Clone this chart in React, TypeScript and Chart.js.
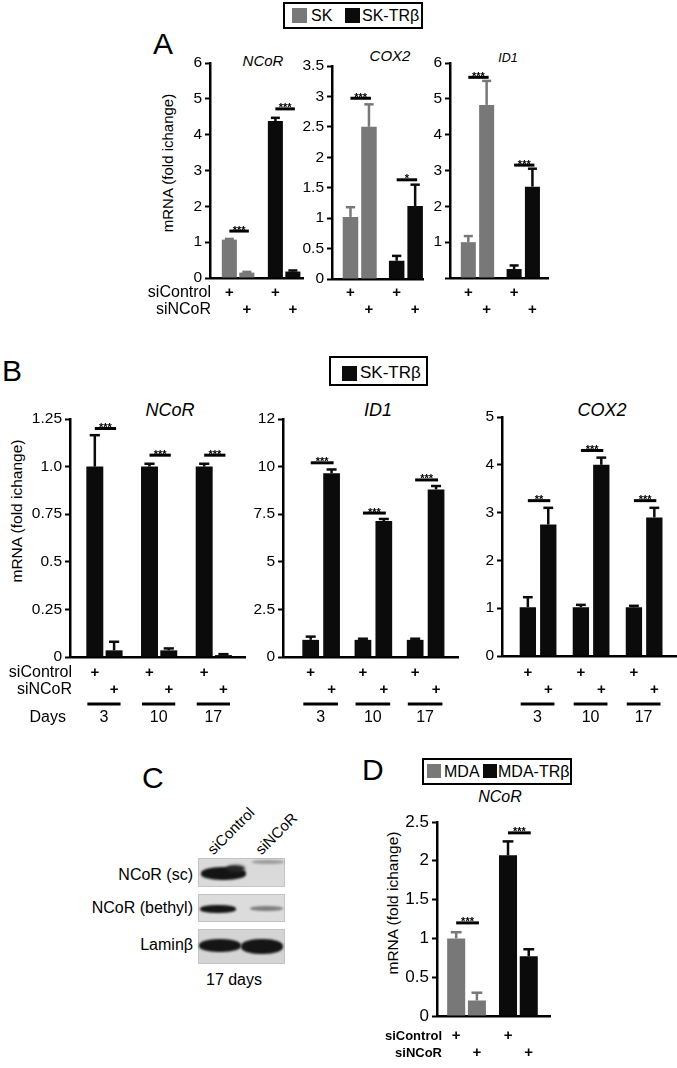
import React, { useEffect, useRef } from 'react';
import { Chart, registerables } from 'chart.js';
Chart.register(...registerables);

const FONT = '"Liberation Sans", Arial, Helvetica, sans-serif';
const GRAY = '#787878';
const BLACK = '#0b0b0b';

// ---------- Panel A (SK vs SK-TRβ) ----------
const A_GROUPS = ['SK', 'SK-TRβ'];
const A_COLORS = [GRAY, BLACK];
const A_NCOR_CTRL = [1.07, 4.38];
const A_NCOR_CTRL_ERR = [0.02, 0.09];
const A_NCOR_SI = [0.15, 0.18];
const A_NCOR_SI_ERR = [0.02, 0.03];
const A_NCOR_SIG_Y = [1.31, 4.72];
const A_NCOR_SIG = ['***', '***'];
const A_NCOR_TICKS = ['0', '1', '2', '3', '4', '5', '6'];

const A_COX2_CTRL = [1.02, 0.3];
const A_COX2_CTRL_ERR = [0.16, 0.08];
const A_COX2_SI = [2.5, 1.2];
const A_COX2_SI_ERR = [0.37, 0.35];
const A_COX2_SIG_Y = [2.97, 1.63];
const A_COX2_SIG = ['***', '*'];
const A_COX2_TICKS = ['0', '0.5', '1', '1.5', '2', '2.5', '3', '3.5'];

const A_ID1_CTRL = [1.0, 0.25];
const A_ID1_CTRL_ERR = [0.17, 0.1];
const A_ID1_SI = [4.83, 2.55];
const A_ID1_SI_ERR = [0.67, 0.5];
const A_ID1_SIG_Y = [5.6, 3.15];
const A_ID1_SIG = ['***', '***'];
const A_ID1_TICKS = ['', '1', '2', '3', '4', '5', '6'];

// ---------- Panel B (SK-TRβ, days) ----------
const B_DAYS = ['3', '10', '17'];
const B_COLORS = [BLACK, BLACK, BLACK];
const B_NCOR_CTRL = [1.0, 1.0, 1.0];
const B_NCOR_CTRL_ERR = [0.165, 0.015, 0.015];
const B_NCOR_SI = [0.035, 0.035, 0.01];
const B_NCOR_SI_ERR = [0.045, 0.01, 0.005];
const B_NCOR_SIG_Y = [1.2, 1.06, 1.06];
const B_NCOR_SIG = ['***', '***', '***'];
const B_NCOR_TICKS = ['0', '0.25', '0.5', '0.75', '1.0', '1.25'];

const B_ID1_CTRL = [0.9, 0.9, 0.9];
const B_ID1_CTRL_ERR = [0.17, 0.06, 0.06];
const B_ID1_SI = [9.65, 7.14, 8.8];
const B_ID1_SI_ERR = [0.2, 0.11, 0.18];
const B_ID1_SIG_Y = [10.2, 7.56, 9.3];
const B_ID1_SIG = ['***', '***', '***'];
const B_ID1_TICKS = ['0', '2.5', '5', '7.5', '10', '12'];

const B_COX2_CTRL = [1.02, 1.02, 1.02];
const B_COX2_CTRL_ERR = [0.21, 0.05, 0.03];
const B_COX2_SI = [2.75, 4.0, 2.9];
const B_COX2_SI_ERR = [0.35, 0.15, 0.2];
const B_COX2_SIG_Y = [3.25, 4.3, 3.25];
const B_COX2_SIG = ['**', '***', '***'];
const B_COX2_TICKS = ['0', '1', '2', '3', '4', '5'];

// ---------- Panel D (MDA vs MDA-TRβ) ----------
const D_GROUPS = ['MDA', 'MDA-TRβ'];
const D_COLORS = [GRAY, BLACK];
const D_CTRL = [1.0, 2.07];
const D_CTRL_ERR = [0.08, 0.18];
const D_SI = [0.2, 0.77];
const D_SI_ERR = [0.1, 0.09];
const D_SIG_Y = [1.2, 2.36];
const D_SIG = ['***', '***'];
const D_TICKS = ['0', '0.5', '1', '1.5', '2', '2.5'];

const ROW_LABELS = ['siControl', 'siNCoR'];

type Spec = {
  groups: string[];
  colors: string[];
  ctrl: number[]; ctrlErr: number[]; si: number[]; siErr: number[];
  sigY: number[]; sig: string[];
  yMax: number; yStep: number; ticks: string[]; tickSize: number;
  box: { left: number; top: number; width: number; height: number };
  area: { left: number; top: number; right: number; bottom: number };
  xPad: [number, number];
  yw: number;
  catPct: number; barPct: number;
  rowOff: number[];
  rowLabels?: { dx: number; font: string };
  days?: { line: number; text: number; label: boolean };
};

function annotPlugin(spec: Spec) {
  return {
    id: 'annot',
    afterDatasetsDraw(chart: any) {
      const ctx = chart.ctx;
      const ys = chart.scales.y;
      const area = chart.chartArea;
      const metas = [chart.getDatasetMeta(0), chart.getDatasetMeta(1)];
      const vals = [spec.ctrl, spec.si];
      const errs = [spec.ctrlErr, spec.siErr];
      ctx.save();
      // error bars
      metas.forEach((m: any, d: number) => {
        m.data.forEach((bar: any, i: number) => {
          const v = vals[d][i];
          const e = errs[d][i];
          const y0 = ys.getPixelForValue(v);
          const y1 = ys.getPixelForValue(v + e);
          ctx.strokeStyle = spec.colors[i];
          ctx.lineWidth = 2.5;
          ctx.beginPath();
          ctx.moveTo(bar.x, y0);
          ctx.lineTo(bar.x, y1);
          ctx.stroke();
          const cw = bar.width * 0.6;
          ctx.beginPath();
          ctx.moveTo(bar.x - cw / 2, y1);
          ctx.lineTo(bar.x + cw / 2, y1);
          ctx.stroke();
        });
      });
      // significance bars
      ctx.fillStyle = '#000';
      spec.sigY.forEach((yv, g) => {
        const x1 = metas[0].data[g].x;
        const x2 = metas[1].data[g].x;
        const y = ys.getPixelForValue(yv);
        ctx.fillRect(x1, y - 1.5, x2 - x1 + 2, 3);
        ctx.font = `bold 11px ${FONT}`;
        ctx.textAlign = 'center';
        ctx.textBaseline = 'alphabetic';
        ctx.fillText(spec.sig[g], (x1 + x2) / 2 + 1, y + 2.5);
      });
      // + rows
      const bottom = area.bottom;
      ctx.font = `bold 15px ${FONT}`;
      ctx.textAlign = 'center';
      ctx.textBaseline = 'middle';
      metas.forEach((m: any, d: number) => {
        m.data.forEach((bar: any) => {
          ctx.fillText('+', bar.x, bottom + spec.rowOff[d]);
        });
      });
      if (spec.rowLabels) {
        ctx.font = spec.rowLabels.font;
        ctx.textAlign = 'right';
        ROW_LABELS.forEach((t, d) => {
          ctx.fillText(t, area.left + spec.rowLabels!.dx, bottom + spec.rowOff[d]);
        });
      }
      if (spec.days) {
        ctx.font = `16px ${FONT}`;
        ctx.textAlign = 'center';
        spec.groups.forEach((g, i) => {
          const b0 = metas[0].data[i];
          const b1 = metas[1].data[i];
          const xl = b0.x - b0.width / 2 + 1;
          const xr = b1.x + b1.width / 2 - 2;
          ctx.fillRect(xl, bottom + spec.days!.line - 1.5, xr - xl, 3);
          ctx.fillText(g, (xl + xr) / 2, bottom + spec.days!.text);
        });
        if (spec.days.label) {
          ctx.textAlign = 'right';
          ctx.fillText('Days', area.left - 4, bottom + spec.days.text);
        }
      }
      ctx.restore();
    },
  };
}

function BarPanel({ spec }: { spec: Spec }) {
  const ref = useRef<HTMLCanvasElement>(null);
  useEffect(() => {
    const c = ref.current!;
    const { box, area } = spec;
    const ds = (label: string, data: number[]) => ({
      label,
      data: data.map((v, i) => ({ x: i, y: v })),
      backgroundColor: spec.colors,
      borderWidth: 0,
      categoryPercentage: spec.catPct,
      barPercentage: spec.barPct,
    });
    const chart = new Chart(c, {
      type: 'bar',
      data: {
        datasets: [ds('siControl', spec.ctrl), ds('siNCoR', spec.si)],
      },
      options: {
        animation: false,
        responsive: false,
        maintainAspectRatio: false,
        devicePixelRatio: 1,
        events: [],
        layout: {
          padding: {
            left: area.left - box.left - spec.yw,
            top: area.top - box.top,
            right: box.left + box.width - area.right,
            bottom: box.top + box.height - area.bottom,
          },
        },
        plugins: { legend: { display: false }, tooltip: { enabled: false }, title: { display: false } },
        scales: {
          x: {
            type: 'linear',
            offset: false,
            min: -spec.xPad[0],
            max: spec.groups.length - 1 + spec.xPad[1],
            ticks: { display: false, stepSize: 1, includeBounds: false },
            grid: { display: false, drawTicks: false, offset: false },
            border: { display: true, width: 2.5, color: '#000' },
            afterFit: (s: any) => { s.height = 0; },
          },
          y: {
            min: 0,
            max: spec.yMax,
            ticks: {
              stepSize: spec.yStep,
              autoSkip: false,
              color: '#000',
              padding: 3,
              font: { family: FONT, size: spec.tickSize },
              callback: (v: any) => spec.ticks[Math.round(Number(v) / spec.yStep)] ?? '',
            },
            grid: { display: true, drawOnChartArea: false, drawTicks: true, tickLength: 5, tickWidth: 2, tickColor: '#000' },
            border: { display: true, width: 2.5, color: '#000' },
            afterFit: (s: any) => { s.width = spec.yw; },
          },
        },
      } as any,
      plugins: [annotPlugin(spec)],
    });
    return () => chart.destroy();
  }, [spec]);
  return (
    <canvas
      ref={ref}
      width={spec.box.width}
      height={spec.box.height}
      style={{ position: 'absolute', left: spec.box.left, top: spec.box.top, width: spec.box.width, height: spec.box.height }}
    />
  );
}

const ROW_FONT = `16px ${FONT}`;

const SPECS: Spec[] = [
  {
    groups: A_GROUPS, colors: A_COLORS,
    ctrl: A_NCOR_CTRL, ctrlErr: A_NCOR_CTRL_ERR, si: A_NCOR_SI, siErr: A_NCOR_SI_ERR,
    sigY: A_NCOR_SIG_Y, sig: A_NCOR_SIG, yMax: 6, yStep: 1, ticks: A_NCOR_TICKS, tickSize: 15.5,
    box: { left: 135, top: 40, width: 175, height: 285 },
    area: { left: 210, top: 63, right: 303, bottom: 278 },
    xPad: [0.61, 0.41],
    yw: 40, catPct: 0.76, barPct: 0.86, rowOff: [15, 32],
    rowLabels: { dx: 1, font: ROW_FONT },
  },
  {
    groups: A_GROUPS, colors: A_COLORS,
    ctrl: A_COX2_CTRL, ctrlErr: A_COX2_CTRL_ERR, si: A_COX2_SI, siErr: A_COX2_SI_ERR,
    sigY: A_COX2_SIG_Y, sig: A_COX2_SIG, yMax: 3.5, yStep: 0.5, ticks: A_COX2_TICKS, tickSize: 15.5,
    box: { left: 290, top: 40, width: 140, height: 285 },
    area: { left: 332, top: 66, right: 423, bottom: 279 },
    xPad: [0.6, 0.37],
    yw: 40, catPct: 0.8, barPct: 0.84, rowOff: [14, 31],
  },
  {
    groups: A_GROUPS, colors: A_COLORS,
    ctrl: A_ID1_CTRL, ctrlErr: A_ID1_CTRL_ERR, si: A_ID1_SI, siErr: A_ID1_SI_ERR,
    sigY: A_ID1_SIG_Y, sig: A_ID1_SIG, yMax: 6, yStep: 1, ticks: A_ID1_TICKS, tickSize: 15.5,
    box: { left: 410, top: 40, width: 150, height: 285 },
    area: { left: 450, top: 63, right: 548, bottom: 278 },
    xPad: [0.6, 0.54],
    yw: 38, catPct: 0.8, barPct: 0.82, rowOff: [15, 32],
  },
  {
    groups: B_DAYS, colors: B_COLORS,
    ctrl: B_NCOR_CTRL, ctrlErr: B_NCOR_CTRL_ERR, si: B_NCOR_SI, siErr: B_NCOR_SI_ERR,
    sigY: B_NCOR_SIG_Y, sig: B_NCOR_SIG, yMax: 1.25, yStep: 0.25, ticks: B_NCOR_TICKS, tickSize: 15.5,
    box: { left: 0, top: 395, width: 255, height: 340 },
    area: { left: 70, top: 419, right: 245, bottom: 657 },
    xPad: [0.63, 0.57],
    yw: 45, catPct: 0.705, barPct: 0.88, rowOff: [16, 33],
    rowLabels: { dx: 2, font: ROW_FONT },
    days: { line: 47, text: 61, label: true },
  },
  {
    groups: B_DAYS, colors: B_COLORS,
    ctrl: B_ID1_CTRL, ctrlErr: B_ID1_CTRL_ERR, si: B_ID1_SI, siErr: B_ID1_SI_ERR,
    sigY: B_ID1_SIG_Y, sig: B_ID1_SIG, yMax: 12.5, yStep: 2.5, ticks: B_ID1_TICKS, tickSize: 15.5,
    box: { left: 240, top: 395, width: 225, height: 340 },
    area: { left: 283, top: 419, right: 458, bottom: 657 },
    xPad: [0.73, 0.62],
    yw: 40, catPct: 0.8, barPct: 0.8, rowOff: [16, 33],
    days: { line: 47, text: 61, label: false },
  },
  {
    groups: B_DAYS, colors: B_COLORS,
    ctrl: B_COX2_CTRL, ctrlErr: B_COX2_CTRL_ERR, si: B_COX2_SI, siErr: B_COX2_SI_ERR,
    sigY: B_COX2_SIG_Y, sig: B_COX2_SIG, yMax: 5, yStep: 1, ticks: B_COX2_TICKS, tickSize: 15.5,
    box: { left: 460, top: 395, width: 217, height: 340 },
    area: { left: 502, top: 417, right: 677, bottom: 656 },
    xPad: [0.68, 0.62],
    yw: 38, catPct: 0.77, barPct: 0.8, rowOff: [17, 34],
    days: { line: 48, text: 62, label: false },
  },
  {
    groups: D_GROUPS, colors: D_COLORS,
    ctrl: D_CTRL, ctrlErr: D_CTRL_ERR, si: D_SI, siErr: D_SI_ERR,
    sigY: D_SIG_Y, sig: D_SIG, yMax: 2.5, yStep: 0.5, ticks: D_TICKS, tickSize: 17,
    box: { left: 360, top: 805, width: 200, height: 263 },
    area: { left: 437, top: 822, right: 550, bottom: 1016 },
    xPad: [0.57, 0.61],
    yw: 38, catPct: 0.8, barPct: 0.87, rowOff: [20, 37],
    rowLabels: { dx: 5, font: `bold 13px ${FONT}` },
  },
];

function T({ x, y, size, align = 'left', italic = false, bold = false, children }: any) {
  const tx = align === 'center' ? '-50%' : align === 'right' ? '-100%' : '0';
  return (
    <div
      style={{
        position: 'absolute', left: x, top: y - size / 2, fontSize: size, lineHeight: `${size}px`,
        fontFamily: FONT, fontStyle: italic ? 'italic' : 'normal', fontWeight: bold ? 'bold' : 'normal',
        whiteSpace: 'nowrap', transform: `translateX(${tx})`, color: '#000',
      }}
    >
      {children}
    </div>
  );
}

function YLabel({ x, y, size }: any) {
  return (
    <div
      style={{
        position: 'absolute', left: x, top: y, fontSize: size, lineHeight: `${size}px`, fontFamily: FONT,
        whiteSpace: 'nowrap', transform: 'translate(-50%, -50%) rotate(-90deg)', color: '#000',
      }}
    >
      mRNA (fold ichange)
    </div>
  );
}

function Rot({ x, y, size, children }: any) {
  return (
    <div
      style={{
        position: 'absolute', left: x, top: y - size, fontSize: size, lineHeight: `${size}px`, fontFamily: FONT,
        whiteSpace: 'nowrap', transformOrigin: '0 100%', transform: 'rotate(-45deg)', color: '#000',
      }}
    >
      {children}
    </div>
  );
}

function Box({ left, top, width, height, border = '2.5px solid #000', bg = '#fff' }: any) {
  return (
    <div style={{ position: 'absolute', left, top, width, height, border, background: bg, boxSizing: 'border-box' }} />
  );
}

function Sq({ left, top, size, color }: any) {
  return <div style={{ position: 'absolute', left, top, width: size, height: size, background: color }} />;
}

function Band({ left, top, width, height, color, blur = 1.2 }: any) {
  return (
    <div
      style={{
        position: 'absolute', left, top, width, height, background: color, borderRadius: '45%',
        filter: `blur(${blur}px)`,
      }}
    />
  );
}

export default function App() {
  return (
    <div style={{ position: 'absolute', left: 0, top: 0, width: 677, height: 1068, background: '#fff', overflow: 'hidden' }}>
      {/* Panel A */}
      <Box left={283} top={2} width={140} height={27} />
      <Sq left={292} top={8} size={15} color={GRAY} />
      <T x={311} y={16} size={16}>SK</T>
      <Sq left={345} top={8} size={15} color={BLACK} />
      <T x={362} y={16} size={16}>SK-TRβ</T>
      <T x={153} y={44} size={30}>A</T>
      <T x={263} y={60} size={15} italic align="center">NCoR</T>
      <T x={390} y={55} size={15} italic align="center">COX2</T>
      <T x={508} y={58} size={12.5} italic align="center">ID1</T>
      <YLabel x={167} y={163} size={15} />

      {/* Panel B */}
      <Box left={329} top={356} width={99} height={30} />
      <Sq left={342} top={366} size={15} color={BLACK} />
      <T x={360} y={372} size={17}>SK-TRβ</T>
      <T x={2} y={371} size={30}>B</T>
      <T x={170} y={410} size={18} italic align="center">NCoR</T>
      <T x={378} y={410} size={18} italic align="center">ID1</T>
      <T x={602} y={410} size={18} italic align="center">COX2</T>
      <YLabel x={17} y={511} size={15.5} />

      {/* Panel C */}
      <T x={142} y={778} size={30}>C</T>
      <Rot x={215} y={857} size={15}>siControl</Rot>
      <Rot x={263} y={857} size={15}>siNCoR</Rot>
      <T x={193} y={875} size={16} align="right">NCoR (sc)</T>
      <T x={193} y={908} size={16} align="right">NCoR (bethyl)</T>
      <T x={193} y={945} size={16} align="right">Laminβ</T>
      <Box left={198} top={858} width={87} height={29} border="1px solid #c4c4c4" bg="#dadada" />
      <Band left={201} top={867} width={45} height={13} color="#141414" />
      <Band left={226} top={865} width={19} height={7} color="#262626" blur={1.5} />
      <Band left={252} top={860} width={32} height={4} color="#9c9c9c" blur={1} />
      <Box left={198} top={894} width={87} height={28} border="1px solid #c4c4c4" bg="#dcdcdc" />
      <Band left={200} top={905} width={36} height={8} color="#161616" />
      <Band left={250} top={906} width={33} height={5} color="#7e7e7e" blur={1} />
      <Box left={198} top={929} width={87} height={35} border="1px solid #c4c4c4" bg="#d4d4d4" />
      <Band left={199} top={939} width={42} height={13} color="#151515" />
      <Band left={241} top={939} width={42} height={15} color="#151515" />
      <T x={234} y={980} size={16} align="center">17 days</T>

      {/* Panel D */}
      <T x={362} y={770} size={30}>D</T>
      <Box left={422} top={758} width={150} height={27} />
      <Sq left={427} top={764} size={14} color={GRAY} />
      <T x={444} y={772} size={16}>MDA</T>
      <Sq left={483} top={764} size={14} color={BLACK} />
      <T x={498} y={772} size={16}>MDA-TRβ</T>
      <T x={500} y={797} size={16} italic align="center">NCoR</T>
      <YLabel x={393} y={903} size={15.5} />

      {SPECS.map((s, i) => (
        <BarPanel key={i} spec={s} />
      ))}
    </div>
  );
}
